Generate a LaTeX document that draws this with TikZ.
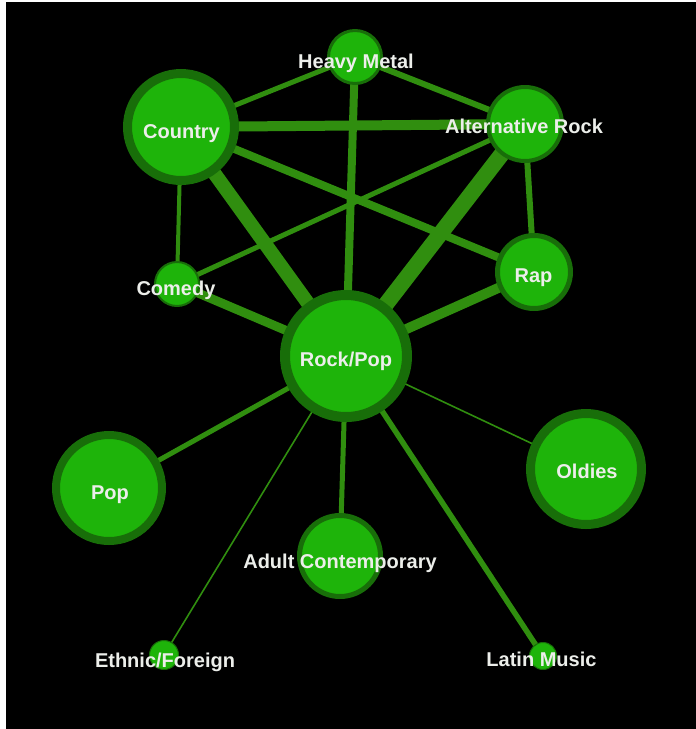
\documentclass[tikz,border=0pt]{standalone}
\usepackage{fontspec}
\setmainfont{Liberation Sans}
\definecolor{gfill}{RGB}{30,180,10}
\definecolor{gring}{RGB}{24,110,9}
\definecolor{gedge}{RGB}{48,142,15}
\definecolor{gtext}{RGB}{236,238,234}
\pgfdeclarelayer{bgl}
\pgfdeclarelayer{edgel}
\pgfsetlayers{bgl,edgel,main}
\tikzset{
  gnode/.style 2 args={circle, fill=gfill, draw=gring, inner sep=0pt, outer sep=0pt,
    minimum size={2*#1pt-#2pt}, line width=#2pt},
  lbl/.style={text=gtext, font=\bfseries\fontsize{20}{24}\selectfont, anchor=base, inner sep=0pt},
  edge/.style={draw=gedge, line width=#1pt},
}
\begin{document}
\begin{tikzpicture}[x=1pt,y=-1pt]
\begin{pgfonlayer}{bgl}
\fill[white] (0,0) rectangle (696,729);
\fill[black] (6,2) rectangle (696,729);
\end{pgfonlayer}
\useasboundingbox (0,0) rectangle (696,729);
% nodes
\node[gnode={66}{10}] (RP) at (346,356) {};
\node[gnode={58}{9}] (CO) at (181,127) {};
\node[gnode={28}{3}] (HM) at (355,57) {};
\node[gnode={39}{4}] (AR) at (525,124) {};
\node[gnode={39}{5}] (RA) at (534,272) {};
\node[gnode={23}{2}] (CM) at (177,284) {};
\node[gnode={57}{8}] (PO) at (109,488) {};
\node[gnode={60}{9}] (OL) at (586,469) {};
\node[gnode={43}{5}] (AC) at (340,556) {};
\node[gnode={15}{1}] (EF) at (164,655) {};
\node[gnode={14}{1}] (LM) at (543,656) {};
% edges
\begin{pgfonlayer}{edgel}
\draw[edge=5] (HM) -- (CO);
\draw[edge=6] (HM) -- (AR);
\draw[edge=8] (HM) -- (RP);
\draw[edge=10] (CO) -- (AR);
\draw[edge=8] (CO) -- (RA);
\draw[edge=14] (CO) -- (RP);
\draw[edge=4] (CO) -- (CM);
\draw[edge=5] (AR) -- (CM);
\draw[edge=16] (AR) -- (RP);
\draw[edge=6] (AR) -- (RA);
\draw[edge=10] (RA) -- (RP);
\draw[edge=9] (CM) -- (RP);
\draw[edge=5] (RP) -- (PO);
\draw[edge=1.6] (RP) -- (EF);
\draw[edge=5] (RP) -- (AC);
\draw[edge=5.5] (RP) -- (LM);
\draw[edge=1.6] (RP) -- (OL);
\end{pgfonlayer}
% labels
\node[lbl] (tHM) at (356,68) {Heavy Metal};
\node[lbl] (tCO) at (181.5,138) {Country};
\node[lbl] (tAR) at (524,133) {Alternative Rock};
\node[lbl] (tRA) at (533.5,282) {Rap};
\node[lbl] (tCM) at (176,295) {Comedy};
\node[lbl] (tRP) at (346,366) {Rock/Pop};
\node[lbl] (tPO) at (110,499) {Pop};
\node[lbl] (tOL) at (587,478) {Oldies};
\node[lbl] (tAC) at (340,568) {Adult Contemporary};
\node[lbl] (tEF) at (165,667) {Ethnic/Foreign};
\node[lbl] (tLM) at (541.5,666) {Latin Music};
\end{tikzpicture}
\end{document}
